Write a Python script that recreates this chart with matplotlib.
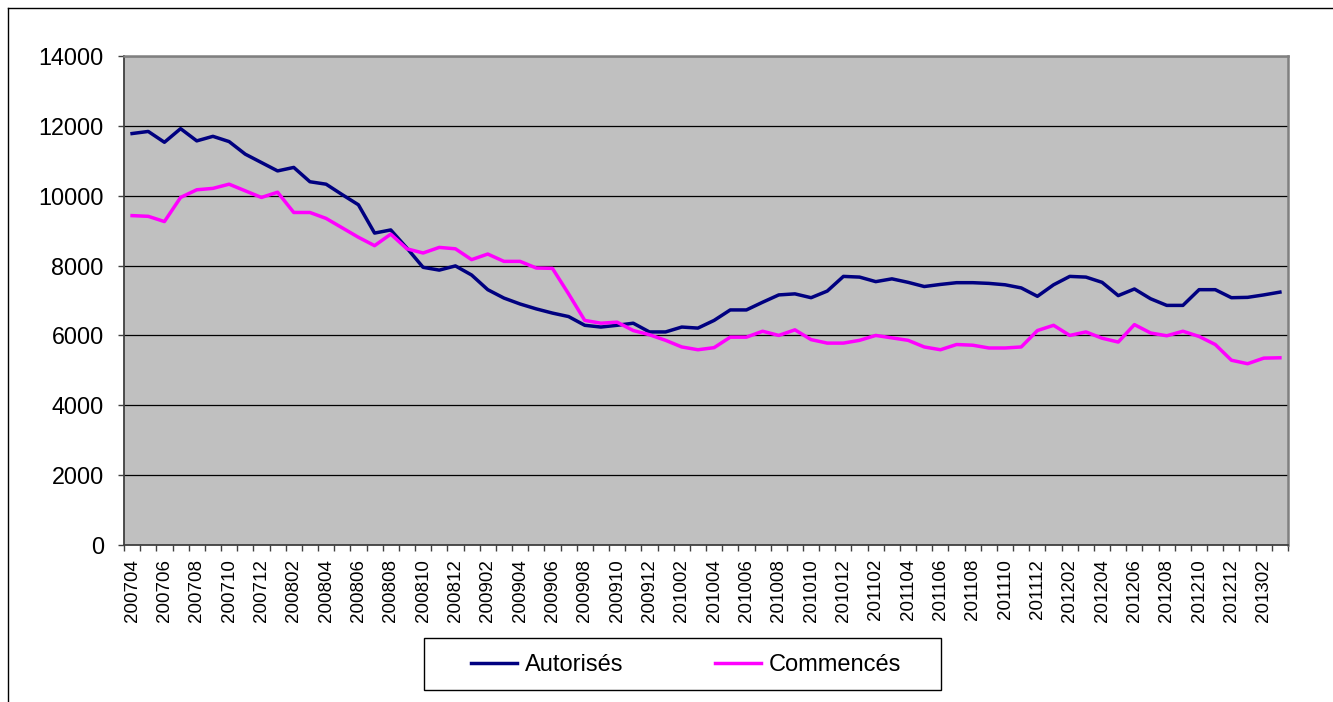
import numpy as np
import matplotlib.pyplot as plt
from matplotlib.patches import Rectangle
from matplotlib.lines import Line2D

plt.rcParams['font.family'] = ['Liberation Sans', 'DejaVu Sans']

# --- data: monthly series, 200704 .. 201303 ---
months = []
for y in range(2007, 2014):
    for m in range(1, 13):
        if (y == 2007 and m < 4) or (y == 2013 and m > 3):
            continue
        months.append(f'{y}{m:02d}')

autorises = [11780, 11840, 11530, 11920, 11570, 11700, 11550, 11190, 10950, 10710,
             10810, 10400, 10330, 10030, 9740, 8930, 9020, 8500, 7950, 7870,
             7990, 7730, 7310, 7070, 6900, 6760, 6640, 6540, 6290, 6240,
             6290, 6350, 6100, 6100, 6240, 6210, 6430, 6730, 6730, 6950,
             7160, 7190, 7080, 7270, 7690, 7670, 7540, 7620, 7520, 7400,
             7460, 7510, 7510, 7490, 7450, 7360, 7120, 7450, 7690, 7670,
             7520, 7140, 7330, 7050, 6860, 6860, 7310, 7310, 7080, 7090,
             7160, 7240]

commences = [9430, 9410, 9260, 9950, 10170, 10210, 10330, 10140, 9950, 10100,
             9520, 9520, 9350, 9080, 8810, 8570, 8900, 8480, 8360, 8520,
             8480, 8170, 8330, 8120, 8120, 7930, 7920, 7190, 6430, 6350,
             6380, 6140, 6020, 5860, 5670, 5590, 5650, 5950, 5950, 6120,
             6000, 6160, 5880, 5780, 5780, 5860, 6000, 5930, 5860, 5670,
             5590, 5740, 5720, 5640, 5640, 5670, 6140, 6290, 6000, 6100,
             5920, 5810, 6310, 6070, 5990, 6120, 5970, 5740, 5290, 5190,
             5350, 5360]

series_names = ['Autorisés', 'Commencés']
series_colors = ['#000080', '#FF00FF']

W, H = 1333, 702
fig = plt.figure(figsize=(W / 100, H / 100), dpi=100)
ax = fig.add_axes([124 / W, 1 - 545 / H, (1288 - 124) / W, (545 - 56) / H])
ax.set_facecolor('#C0C0C0')

x = np.arange(len(months))
for vals, name, col in zip([autorises, commences], series_names, series_colors):
    ax.plot(x, vals, color=col, lw=2.5, label=name, zorder=3)

ax.set_xlim(-0.5, len(months) - 0.5)
ax.set_ylim(0, 14000)
ax.set_yticks(np.arange(0, 14001, 2000))
ax.yaxis.grid(True, color='black', lw=0.9)
ax.set_axisbelow(True)

ax.set_xticks(x[::2])
ax.set_xticklabels(months[::2], rotation=90, fontsize=13.5)
ax.set_xticks(np.arange(-0.5, len(months), 1), minor=True)
ax.tick_params(axis='x', which='major', length=0, pad=10)
ax.tick_params(axis='x', which='minor', length=4, width=1, color='#404040', direction='out')
ax.tick_params(axis='y', length=4.5, width=1, color='#404040', labelsize=16.8, pad=10)

for s in ['left', 'bottom']:
    ax.spines[s].set_color('#404040')
    ax.spines[s].set_linewidth(1.3)
for s in ['right', 'top']:
    ax.spines[s].set_color('#808080')
    ax.spines[s].set_linewidth(1.8)

# legend with square frame
fig.add_artist(Rectangle((424 / W, 1 - 690 / H), (941 - 424) / W, (690 - 638) / H,
                         transform=fig.transFigure, fill=False, edgecolor='black', lw=1))
handles = [Line2D([], [], color=c, lw=2.5) for c in series_colors]
fig.legend(handles, series_names, loc='center', bbox_to_anchor=(686 / W, 1 - 665 / H),
           ncol=2, frameon=False, fontsize=17, handlelength=1.95,
           handletextpad=0.33, columnspacing=3.9)

# outer chart border (cropped screenshot: top and left only)
fig.add_artist(Line2D([8 / W, 1], [1 - 8 / H, 1 - 8 / H], transform=fig.transFigure,
                      color='black', lw=1))
fig.add_artist(Line2D([8 / W, 8 / W], [0, 1 - 8 / H], transform=fig.transFigure,
                      color='black', lw=1))

fig.savefig('out.png', dpi=100, facecolor='white')
